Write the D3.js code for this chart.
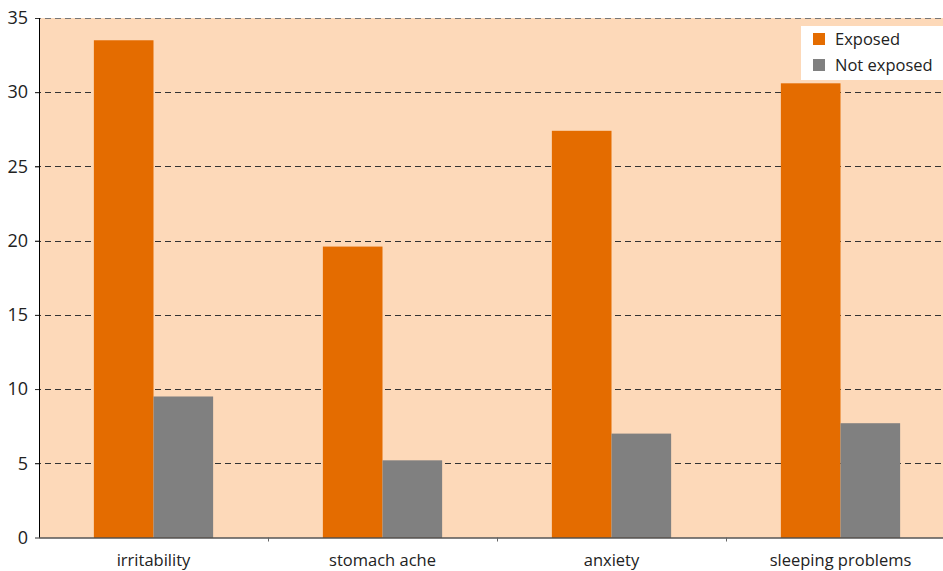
<!DOCTYPE html>
<html><head><meta charset="utf-8">
<script src="https://cdn.jsdelivr.net/npm/d3@7"></script>
<style>body{margin:0;background:#fff;overflow:hidden}svg{display:block}text{font-family:"Open Sans","Noto Sans",sans-serif;fill:#222}</style>
</head><body><svg id="c" width="943" height="571"></svg>
<script>
const categories = ["irritability", "stomach ache", "anxiety", "sleeping problems"];
const seriesNames = ["Exposed", "Not exposed"];
const exposed = [33.5, 19.6, 27.4, 30.6];
const notExposed = [9.5, 5.2, 7.0, 7.7];
const yTicks = [0, 5, 10, 15, 20, 25, 30, 35];
const colors = ["#e46c00", "#808080"];

const svg = d3.select("#c");
const m = {l: 39, t: 18, r: 955, b: 537.5};
const x = d3.scaleBand().domain(categories).range([m.l, m.r]);
const y = d3.scaleLinear().domain([0, 35]).range([m.b, m.t]);
const xs = d3.scaleBand().domain(seriesNames).range([0, x.bandwidth()]).paddingOuter(0.92).paddingInner(0);

svg.append("rect").attr("x", m.l).attr("y", m.t).attr("width", m.r - m.l).attr("height", m.b - m.t).attr("fill", "#fdd9b9");

// gridlines
svg.append("g").selectAll("line").data(yTicks.filter(d => d > 0)).join("line")
  .attr("x1", m.l - 4).attr("x2", m.r).attr("y1", d => Math.round(y(d)) + 0.5).attr("y2", d => Math.round(y(d)) + 0.5)
  .attr("stroke", d => d === 35 ? "#777" : "#333").attr("stroke-width", 1).attr("stroke-dasharray", "6,4");

// bars
const data = categories.map((c, i) => ({c, vals: [exposed[i], notExposed[i]]}));
const g = svg.append("g").selectAll("g").data(data).join("g").attr("transform", d => `translate(${x(d.c)},0)`);
g.selectAll("rect").data(d => d.vals.map((v, j) => ({v, s: seriesNames[j], j}))).join("rect")
  .attr("x", d => xs(d.s)).attr("width", xs.bandwidth())
  .attr("y", d => y(d.v)).attr("height", d => y(0) - y(d.v)).attr("fill", d => colors[d.j]);

// y axis
const ya = svg.append("g").attr("transform", `translate(${m.l},0)`)
  .call(d3.axisLeft(y).tickValues(yTicks).tickSize(4).tickPadding(7).tickFormat(d3.format("d")));
ya.select(".domain").attr("stroke", "#000").attr("d", `M0.5,${m.t}V${m.b}`);
ya.selectAll(".tick line").attr("stroke", "#333");
ya.selectAll("text").attr("font-size", 18).style("font-family", '"Open Sans","Noto Sans",sans-serif').attr("fill", "#222");

// x axis
const xa = svg.append("g").attr("transform", `translate(0,${m.b})`)
  .call(d3.axisBottom(x).tickSize(0).tickPadding(17));
xa.select(".domain").attr("stroke", "#000").attr("d", `M${m.l},0.5H${m.r}`);
xa.selectAll("text").attr("font-size", 16.5).style("font-family", '"Open Sans","Noto Sans",sans-serif').attr("fill", "#222");
svg.append("g").selectAll("line").data(categories.slice(1)).join("line")
  .attr("x1", d => Math.round(x(d)) + 0.5).attr("x2", d => Math.round(x(d)) + 0.5)
  .attr("y1", m.b).attr("y2", m.b + 4).attr("stroke", "#666");

// legend
const lg = svg.append("g");
lg.append("rect").attr("x", 801).attr("y", 26).attr("width", 145).attr("height", 54).attr("fill", "#fff");
seriesNames.forEach((s, i) => {
  lg.append("rect").attr("x", 813).attr("y", 33 + i * 26).attr("width", 12).attr("height", 12).attr("fill", colors[i]);
  lg.append("text").attr("x", 835).attr("y", 45 + i * 26).attr("font-size", 16.5).text(s);
});
</script></body></html>
